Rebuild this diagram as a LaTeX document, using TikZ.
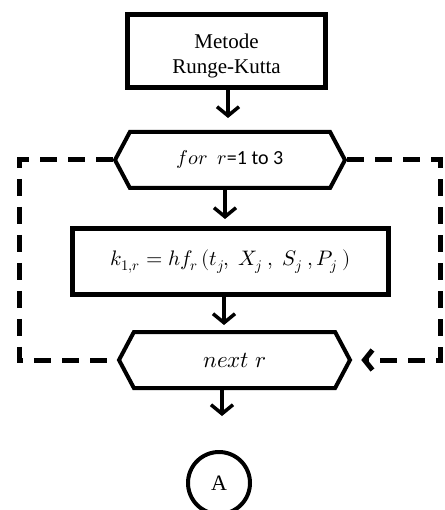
\documentclass[tikz,border=0pt]{standalone}
\usepackage{fontspec}
\usepackage{unicode-math}
\setmainfont{Liberation Serif}
\setmathfont{Latin Modern Math}
\newfontfamily\carl{Carlito}
\usetikzlibrary{arrows.meta,shapes.symbols}
\begin{document}
\begin{tikzpicture}[x=1pt,y=-1pt,
  boxnode/.style={draw,line width=5pt,rectangle,inner sep=0pt,align=center},
  hexnode/.style={draw,line width=4pt,signal,signal to=west and east,signal pointer angle=124,inner sep=0pt,minimum height=56pt},
  arr/.style={line width=3.5pt,-{Straight Barb[length=9pt,width=22pt]}},
  loopline/.style={line width=5pt,dash pattern=on 17pt off 11pt},
  larr/.style={loopline,-{Straight Barb[length=8pt,width=20pt]}},
]
\useasboundingbox (0,0) rectangle (444,510);
\node[boxnode,minimum width=198pt,minimum height=73pt] (box1) at (226.5,51) {};
\node[align=center,inner sep=0pt,font=\fontsize{21}{25}\selectfont] (box1txt) at ([yshift=-4.5pt]box1.center) {Metode\\Runge-Kutta};
\node[hexnode,minimum width=230pt,font=\fontsize{20}{24}\selectfont] (hex1) at (230,160) {$for\ \ r${\carl =1 to 3}};
\node[boxnode,minimum width=316pt,minimum height=66pt,font=\fontsize{21}{25}\selectfont] (box2) at (230.5,261.5) {$k_{\symup{1},r}=hf_r\,(t_j,\ X_j\ ,\ S_j\ ,P_j\ )$};
\node[hexnode,minimum width=231pt,font=\fontsize{23}{27}\selectfont] (hex2) at (234.5,360) {$next\ r$};
\node[circle,draw,line width=4pt,minimum size=62pt,inner sep=0pt,font=\fontsize{22}{26}\selectfont] (circA) at (219,483) {A};
\coordinate (lt) at (19.5,160);
\coordinate (rt) at (440,160);
% flow arrows
\draw[arr,shorten >=12pt] ([xshift=1.5pt]box1.south) -- ([xshift=1.5pt]box1.south |- hex1.north);
\draw[arr,shorten >=7pt] ([xshift=-5pt]hex1.south) -- ([xshift=-5pt]hex1.south |- box2.north);
\draw[arr,shorten >=5pt] ([xshift=-6.5pt]box2.south) -- ([xshift=-6.5pt]box2.south |- hex2.north);
\draw[arr,shorten >=34pt] ([xshift=3pt]circA.north |- hex2.south) -- ([xshift=3pt]circA.north);
% loop
\draw[loopline] (hex1.west) -- (hex1.west -| lt) -- (lt |- hex2.west) -- (hex2.west);
\draw[larr,shorten >=9pt] (hex1.east) -- (rt) -- (rt |- hex2.east) -- (hex2.east);
\end{tikzpicture}
\end{document}
